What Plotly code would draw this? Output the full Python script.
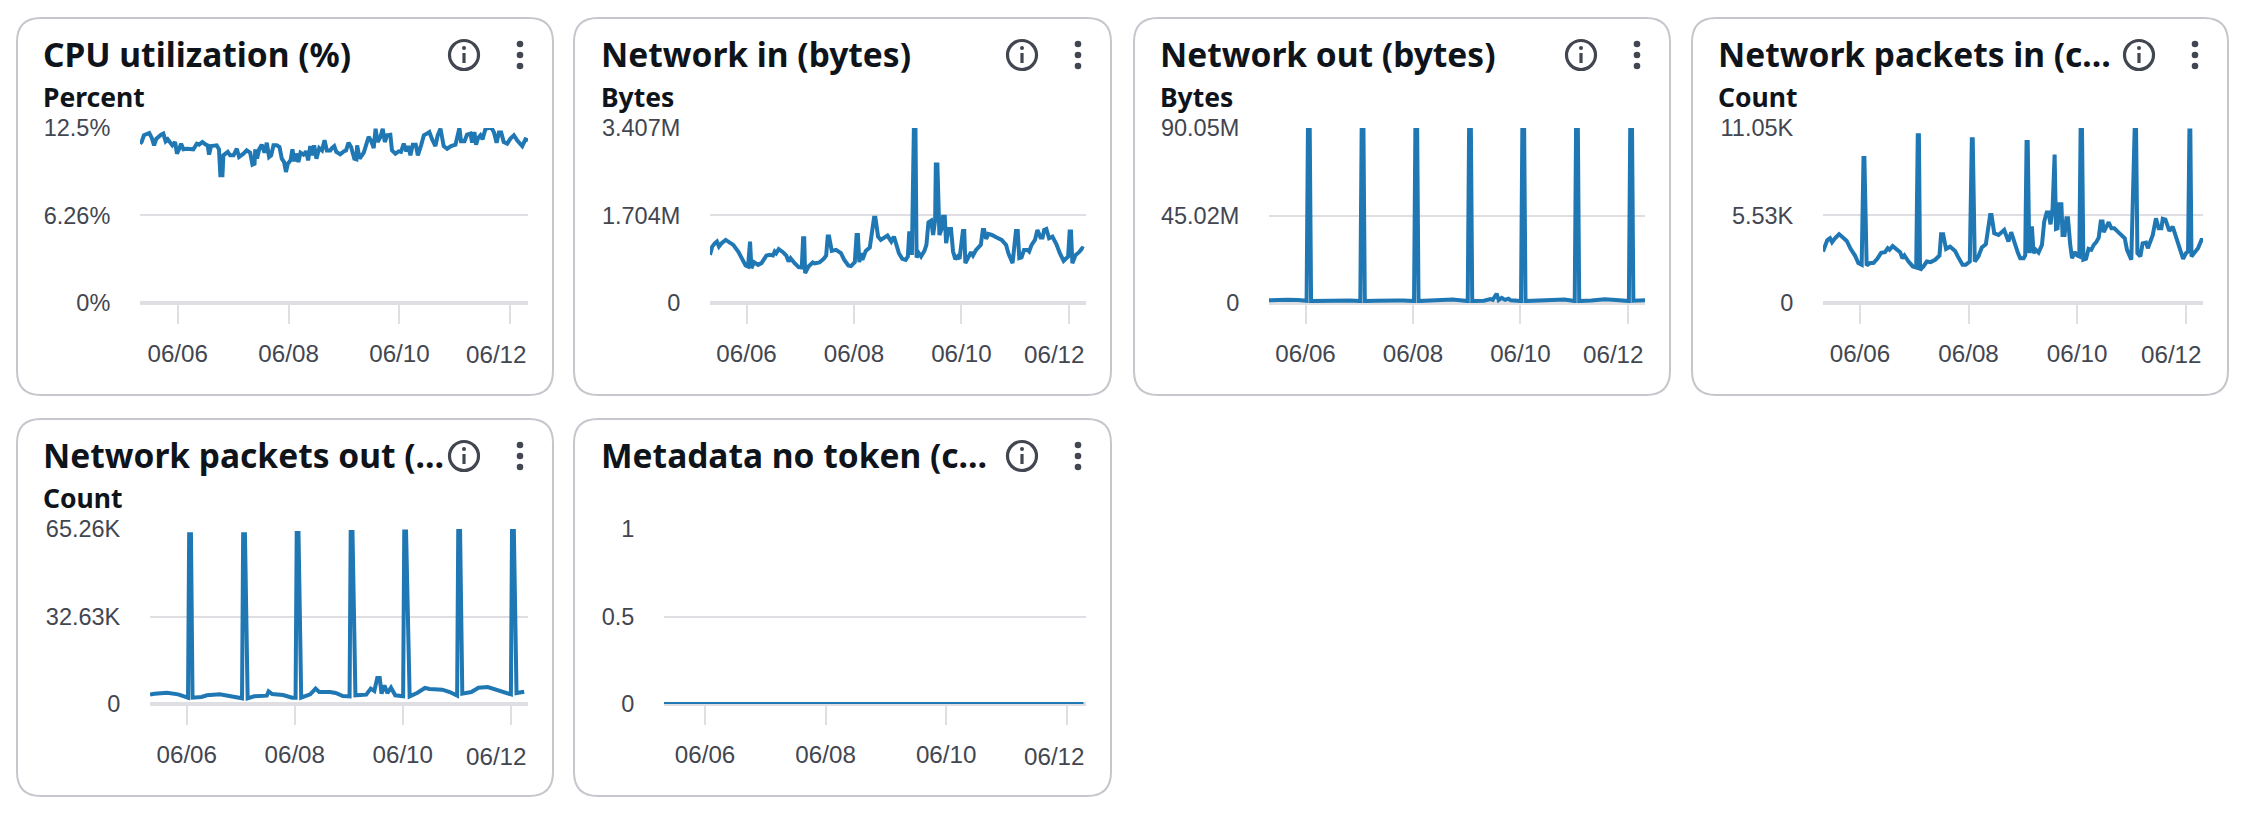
#!/usr/bin/env python3
"""
EC2 monitoring dashboard: six small metric cards drawn with Plotly.
Output: out.html
"""
import pandas as pd
import plotly.graph_objects as go

WIDTH = 2264
HEIGHT = 820

START = "2024-06-05 07:40"
END = "2024-06-12 07:40"
TICK_DATES = ["2024-06-06", "2024-06-08", "2024-06-10", "2024-06-12"]
TICK_TEXT = ["06/06", "06/08", "06/10", "06/12"]

TITLES = [
    "CPU utilization (%)",
    "Network in (bytes)",
    "Network out (bytes)",
    "Network packets in (c…",
    "Network packets out (…",
    "Metadata no token (c…",
]
UNITS = ["Percent", "Bytes", "Bytes", "Count", "Count", ""]

Y_TICKS = [
    [0, 6.26, 12.5],
    [0, 1.704, 3.407],
    [0, 45.02, 90.05],
    [0, 5.53, 11.05],
    [0, 32.63, 65.26],
    [0, 0.5, 1],
]
Y_TICK_TEXT = [
    ["0%", "6.26%", "12.5%"],
    ["0", "1.704M", "3.407M"],
    ["0", "45.02M", "90.05M"],
    ["0", "5.53K", "11.05K"],
    ["0", "32.63K", "65.26K"],
    ["0", "0.5", "1"],
]

# hours since START
CPU_HOURS = [
    0, .7, 1.7, 2.9, 4, 5.1, 6.1, 7.1, 8.2, 9.1,
    10.1, 11.1, 12, 13, 14, 15.2, 16, 16.9, 17.8, 18.8,
    20.2, 23.1, 24.6, 25.6, 27, 28.5, 29.3, 29.9, 30.8, 33.2,
    34.2, 34.8, 35.7, 36.1, 38, 39, 40.5, 41.9, 42.9, 44.8,
    46.2, 47.7, 48.7, 49.6, 49.9, 50.7, 51.6, 52.7, 53.9, 54.9,
    55.9, 56.8, 57.8, 59.2, 60.4, 61.4, 62.4, 63.2, 64, 65.2,
    66, 66.9, 67.6, 68.6, 69.5, 70.8, 72, 72.8, 73.7, 74.4,
    75.4, 76.4, 77.6, 78.8, 79.9, 80.9,
    82.4, 83.1, 84.1, 85, 86.7, 88.2, 89.2, 90.3, 91.4, 92.8,
    93.7, 94, 95.1, 96.9, 97.9, 99, 100, 101.2, 102, 102.9,
    104.1, 105.1, 106, 107, 108.4, 109.1, 110.6, 112, 113, 114.2,
    115.3, 116.1, 117.1, 118.1, 119.4, 120.3, 121.7, 122.9, 124.3, 125.3,
    126.5, 127.9, 128.9, 130.1, 131.5, 133, 134.7, 136.6, 138.3, 139,
    140.5, 141.6, 143.1, 143.8, 144.8, 145.5, 146.4, 147.4, 148.3, 149.6,
    151, 152.2, 153.2, 154.4, 155.4, 156.4, 157.5, 159, 160.4, 161.9,
    163.3, 165.5, 166.9, 168,
]
CPU_VALUES = [
    11.38, 11.50, 11.98, 12.05, 12.14, 11.79, 11.26, 11.74, 11.93, 12.02,
    12.10, 11.55, 11.69, 11.45, 11.26, 11.50, 10.67, 10.98, 11.38, 10.98,
    11.02, 10.98, 11.38, 11.31, 11.50, 11.31, 11.26, 10.60, 11.21, 11.26,
    10.98, 9.12, 9.12, 10.55, 10.79, 10.55, 10.55, 11.02, 10.43, 10.67,
    10.90, 10.74, 9.88, 9.95, 10.98, 10.31, 10.98, 11.31, 10.74, 11.45,
    10.43, 10.55, 11.26, 11.26, 11.14, 10.31, 10.07, 9.36, 9.95, 10.19,
    10.98, 10.12, 10.67, 10.07, 10.74, 10.60, 10.83, 10.19, 11.21, 10.55,
    11.26, 10.31, 11.07, 10.90, 11.62, 10.90,
    10.90, 11.07, 11.21, 10.79, 10.62, 10.83, 10.90, 11.45, 11.14, 10.31,
    10.26, 11.26, 10.31, 10.74, 11.26, 11.86, 11.62, 11.07, 12.45, 11.50,
    11.86, 12.45, 11.50, 11.98, 12.02, 10.90, 10.67, 10.83, 10.79, 11.38,
    10.83, 11.21, 10.55, 11.31, 11.31, 10.55, 11.26, 11.98, 12.10, 12.21,
    11.69, 11.21, 11.98, 12.45, 11.21, 11.02, 11.21, 11.31, 12.50, 11.55,
    11.55, 12.02, 12.10, 11.45, 12.21, 11.31, 11.79, 11.98, 11.69, 12.45,
    12.50, 12.50, 12.21, 11.45, 12.17, 12.17, 11.50, 11.38, 11.74, 11.98,
    11.62, 11.21, 11.69, 11.62,
]

NET_IN_HOURS = [
    0, 1, 2.2, 3.1, 4, 5.2, 7, 8.4, 10.4, 12.6,
    14.8, 15.9, 17, 17.6, 17.9, 18.5, 19.7, 21.5, 23, 25.2,
    26.7, 28.1, 28.9, 29.6, 30.7, 32.6, 34.1, 35.1, 36, 37.8,
    39.6, 41, 41.6, 42.1, 42.5, 44, 45.9, 46.7, 48.9, 50.8,
    51.9, 52.6, 53.2, 54.4, 56.3, 58.5, 60, 61.8, 63, 64.7,
    65.5, 66.1, 66.7, 67.4, 68.1, 69.6, 71.4, 73.3, 73.9, 75.1,
    76.3, 79.3, 81,
    82.2, 83.4, 84.4, 85.9, 87.4, 88.4, 89, 89.6, 90.2, 91.1,
    91.8, 92.3, 93.3, 94.3, 95.8, 96.7, 97.6, 98.8, 99.7, 100.6,
    100.9, 101.6, 102.5, 103.7, 104.1, 104.9, 105.5, 106.6, 107.7, 108.6,
    109.6, 110.6, 111.5, 113, 113.6, 114.1, 115.5, 116.6, 117.5, 118.9,
    121, 121.9, 122.5, 123.4, 124.4, 125.9, 128.1, 130.3, 132.3, 133.3,
    135.2, 136.7, 137.5, 138.2, 139.2, 140.3, 141.8, 142.6, 143.7, 145.2,
    146.3, 147.7, 148.6, 149.3, 150.3, 151.5, 153, 154.8, 156.3, 158,
    160, 160.7, 161.3, 161.9, 163.4, 164.9, 166.3, 167,
]
NET_IN_VALUES = [
    .937, 1.099, 1.164, 1.196, 1.099, 1.164, 1.228, 1.183, 1.131, 1.002,
    .840, .731, .711, 1.196, 1.196, .679, .795, .743, .776, .924,
    .937, .924, 1.002, .970, 1.047, .989, .924, .808, .873, .776,
    .698, .692, 1.261, 1.261, .582, .711, .789, .769, .789, .860,
    .924, 1.293, 1.293, 1.015, 1.034, .970, .840, .731, .718, .795,
    1.325, 1.325, .795, .970, .840, 1.015, 1.080, 1.662, 1.662, 1.293,
    1.228, 1.312, 1.196,
    1.293, 1.099, .970, .860, .840, .905, 1.358, 1.358, .937, 3.407,
    3.407, .886, .970, .905, 1.015, 1.131, 1.571, 1.603, 1.325, 1.616,
    2.696, 2.696, 1.325, 1.468, 1.681, 1.681, 1.164, 1.442, 1.442, 1.002,
    .853, .905, .860, 1.403, 1.403, .776, .905, .989, .924, 1.034,
    1.131, 1.422, 1.422, 1.248, 1.345, 1.325, 1.274, 1.228, 1.131, .970,
    .776, 1.403, 1.403, .873, .886, 1.034, 1.034, 1.002, 1.131, 1.228,
    1.422, 1.274, 1.274, 1.422, 1.442, 1.261, 1.293, 1.144, .970, .821,
    .905, 1.390, 1.390, .776, .937, .989, 1.067, 1.054,
]

NET_OUT_HOURS = [
    0, 3, 8, 13, 16.8, 17.4, 18.2, 18.8, 24, 30,
    36, 40.8, 41.4, 42.2, 42.8, 48, 54, 57, 60, 64.8,
    65.4, 66.2, 66.8, 72, 76, 82, 88.8, 89.4, 90.2, 90.8,
    96, 99, 100, 101.7, 102.6, 104, 105.5, 107, 108, 112.6,
    113.2, 114, 114.6, 120, 126, 132, 136.6, 137.2, 138, 138.6,
    144, 150, 155, 160.8, 161.4, 162.2, 162.8, 165, 168,
]
NET_OUT_VALUES = [
    1.4, 1.7, 1.7, 1.5, 1.1, 89.2, 89.2, 1.0, 1.2, 1.5,
    1.3, 1.0, 89.4, 89.4, 1.0, 1.2, 1.6, 1.3, 1.3, 1.0,
    89.5, 89.5, 1.0, 1.3, 1.9, 1.8, 1.0, 89.9, 89.9, 1.0,
    1.2, 2.0, 1.6, 4.8, 1.5, 2.6, 1.6, 2.2, 1.4, 1.0,
    90.05, 90.05, 1.0, 1.3, 1.9, 1.8, 1.0, 90.05, 90.05, 1.0,
    1.3, 1.9, 1.6, 1.0, 90.05, 90.05, 1.2, 1.5, 1.4,
]

PACKETS_IN_HOURS = [
    0, .9, 1.9, 3.1, 4, 5.3, 7.1, 8.7, 10.5, 12.2,
    14.2, 15.6, 17.1, 17.9, 18.3, 19.3, 20.8, 22.3, 24, 25.7,
    27.4, 28.6, 29.4, 30.8, 32.3, 34.1, 35.1, 36, 37.8, 39.7,
    41.2, 41.9, 42.4, 42.9, 44.4, 45.9, 47.6, 49.6, 51.5, 52.2,
    53.1, 54.4, 56.2, 58.4, 59.6, 61.7, 63.1, 64.9, 65.8, 66.2,
    67.1, 68.7, 70.2, 72, 73.9, 74.5, 75.7, 77.6, 80.1, 82,
    83.2,
    85, 86.2, 87.2, 88.7, 89.4, 90, 90.5, 91.2, 91.9, 92.4,
    93.1, 94.1, 95.3, 96.8, 97.8, 98.9, 99.7, 100.6, 101.5, 102,
    102.4, 103, 103.7, 104.5, 105.4, 105.9, 106.8, 107.6, 108.3, 109.3,
    110.1, 111.3, 112.3, 113.3, 113.9, 114.5, 115.1, 116.3, 117.4, 118.6,
    119.7, 120.8, 121.9, 122.8, 123.6, 124.1, 125.1, 126.3, 127.5, 128.8,
    130.3, 132.2, 133.4, 134.4, 136.3, 137.8, 138.4, 139, 140.3, 141.3,
    142.8, 143.6, 144.7, 145.8, 147.2, 148.4, 149.6, 150.2, 151.4, 153.1,
    154.6, 156.5, 158, 159.2, 160.5, 161.4, 162, 162.4, 162.9, 164.6,
    165.8, 167.3, 168,
]
PACKETS_IN_VALUES = [
    3.25, 3.67, 3.98, 4.09, 3.84, 4.09, 4.34, 4.15, 3.92, 3.42,
    2.98, 2.52, 2.41, 9.16, 9.16, 2.37, 2.52, 2.52, 2.79, 3.17,
    3.21, 3.46, 3.36, 3.59, 3.42, 3.21, 2.83, 3.00, 2.62, 2.31,
    2.24, 10.59, 10.59, 2.08, 2.31, 2.62, 2.58, 2.73, 3.00, 4.34,
    4.34, 3.42, 3.56, 3.29, 2.94, 2.41, 2.41, 2.62, 10.34, 10.34,
    2.62, 2.94, 3.50, 3.71, 5.56, 5.56, 4.40, 4.30, 4.61, 3.88,
    4.47,
    3.56, 3.15, 2.83, 2.83, 3.00, 10.17, 10.17, 3.15, 4.72, 4.72,
    3.15, 3.36, 3.19, 3.67, 5.14, 5.72, 5.72, 4.97, 5.98, 9.37,
    9.37, 4.68, 4.72, 6.23, 6.23, 4.30, 4.30, 5.35, 5.35, 3.67,
    2.83, 3.21, 3.00, 2.94, 11.01, 11.01, 2.73, 2.79, 3.42, 3.36,
    3.67, 3.84, 4.13, 5.14, 5.14, 4.47, 4.82, 5.10, 4.72, 4.72,
    4.51, 4.30, 4.09, 3.36, 2.73, 11.05, 11.05, 3.15, 2.94, 3.77,
    3.82, 3.46, 3.98, 4.30, 5.35, 4.72, 4.72, 5.31, 5.26, 4.55,
    4.82, 3.98, 3.36, 2.79, 3.15, 3.25, 10.90, 10.90, 2.94, 3.21,
    3.46, 3.98, 3.98,
]

PACKETS_OUT_HOURS = [
    0, 2, 7.6, 12.5, 16.9, 17.4, 18.2, 18.9, 22.9, 25.3,
    31, 36.6, 40.9, 41.4, 42.2, 43.4, 46.3, 51.9, 52.7, 54.3,
    59.1, 63.2, 64.7, 65.2, 66, 67.2, 71.2, 73.6, 75.2, 80,
    82.5, 85.7, 88.7, 89.2, 90, 91.3, 96.1, 98.1, 99.7, 101,
    102.1, 102.9, 104.2, 105.5, 107.1, 109, 112.5, 113, 113.8, 115.4,
    118.7, 122.2, 124.3, 129.9, 133.2, 136.5, 137, 137.8, 138.8, 142.8,
    146, 150.1, 154.1, 160.4, 160.9, 161.7, 162.9, 165.3, 166.3,
]
PACKETS_OUT_VALUES = [
    3.48, 3.85, 4.23, 3.60, 2.36, 63.3, 63.3, 2.36, 2.61, 3.23,
    3.60, 2.86, 2.11, 63.3, 63.3, 2.11, 2.86, 3.11, 4.72, 3.73,
    3.36, 2.36, 2.36, 63.8, 63.8, 2.36, 3.60, 5.72, 4.47, 4.47,
    4.10, 2.98, 2.86, 64.1, 64.1, 3.23, 3.48, 5.72, 4.85, 9.70,
    9.70, 3.85, 6.96, 4.10, 6.09, 3.23, 2.86, 64.3, 64.3, 2.86,
    4.10, 5.97, 5.59, 5.34, 4.47, 3.11, 65.1, 65.1, 3.85, 4.47,
    6.09, 6.34, 5.34, 3.60, 65.26, 65.26, 4.10, 4.60, 4.60,
]

METADATA_HOURS = [0, 24, 48, 72, 96, 120, 144, 167]
METADATA_VALUES = [0, 0, 0, 0, 0, 0, 0, 0]

SERIES_HOURS = [CPU_HOURS, NET_IN_HOURS, NET_OUT_HOURS, PACKETS_IN_HOURS, PACKETS_OUT_HOURS, METADATA_HOURS]
SERIES_VALUES = [CPU_VALUES, NET_IN_VALUES, NET_OUT_VALUES, PACKETS_IN_VALUES, PACKETS_OUT_VALUES, METADATA_VALUES]

# card box, plot left/right, title left, info icon x, kebab x (all page pixels)
CARDS = [
    dict(left=17, right=553, top=18, plot_l=140, plot_r=528, text_x=41, info_x=464, dots_x=520),
    dict(left=574, right=1111, top=18, plot_l=710, plot_r=1086, text_x=599, info_x=1022, dots_x=1078),
    dict(left=1134, right=1670, top=18, plot_l=1269, plot_r=1645, text_x=1158, info_x=1581, dots_x=1637),
    dict(left=1692, right=2228, top=18, plot_l=1823, plot_r=2203, text_x=1716, info_x=2139, dots_x=2195),
    dict(left=17, right=553, top=419, plot_l=150, plot_r=528, text_x=41, info_x=464, dots_x=520),
    dict(left=574, right=1111, top=419, plot_l=664, plot_r=1086, text_x=599, info_x=1022, dots_x=1078),
]

CARD_H = 377
BLUE = "#1f77b4"
GRID = "#dedee3"
BORDER = "#c6c6cd"
TEXT = "#0f141a"
MUTED = "#424650"
TITLE_FONT = "Noto Sans"
TICK_FONT = "Liberation Sans"


def px(x):
    return x / WIDTH


def py(y):
    return 1 - y / HEIGHT


def rounded_box(x0, y0, x1, y1, r):
    """Rounded rectangle path in paper coordinates."""
    pts = [
        ("M", x0 + r, y0), ("L", x1 - r, y0), ("Q", x1, y0, x1, y0 + r), ("L", x1, y1 - r),
        ("Q", x1, y1, x1 - r, y1), ("L", x0 + r, y1), ("Q", x0, y1, x0, y1 - r), ("L", x0, y0 + r),
        ("Q", x0, y0, x0 + r, y0),
    ]
    out = []
    for p in pts:
        coords = []
        for i in range(1, len(p), 2):
            coords.append(f"{px(p[i]):.5f},{py(p[i + 1]):.5f}")
        out.append(p[0] + " " + " ".join(coords))
    return " ".join(out) + " Z"


def text_note(x, y, text, size, family, color, anchor="left", bold=False):
    return dict(
        x=px(x), y=py(y), xref="paper", yref="paper", text=f"<b>{text}</b>" if bold else text,
        showarrow=False, xanchor=anchor, yanchor="middle", align=anchor,
        font=dict(family=family, size=size, color=color),
    )


def circle(cx, cy, r, **kw):
    return dict(type="circle", xref="paper", yref="paper", x0=px(cx - r), x1=px(cx + r), y0=py(cy + r), y1=py(cy - r), **kw)


def main():
    fig = go.Figure()
    shapes = []
    notes = []

    for i, card in enumerate(CARDS):
        n = i + 1
        top = card["top"]
        suffix = "" if n == 1 else str(n)
        times = pd.Timestamp(START) + pd.to_timedelta(SERIES_HOURS[i], unit="h")

        fig.add_trace(go.Scatter(
            x=times, y=SERIES_VALUES[i], mode="lines", name=TITLES[i],
            line=dict(color=BLUE, width=4), xaxis=f"x{suffix}", yaxis=f"y{suffix}",
        ))

        fig.layout[f"xaxis{suffix}"] = dict(
            domain=[px(card["plot_l"]), px(card["plot_r"])], anchor=f"y{suffix}",
            type="date", range=[START, END], tickvals=TICK_DATES,
            # the last label is right-aligned to the plot edge, see below
            ticktext=TICK_TEXT[:-1] + [""],
            ticks="outside", ticklen=20, tickwidth=2, tickcolor=GRID,
            ticklabelstandoff=9, showgrid=False, showline=False, zeroline=False,
            tickfont=dict(family=TICK_FONT, size=24.2, color=MUTED),
        )
        fig.layout[f"yaxis{suffix}"] = dict(
            domain=[py(top + 285), py(top + 110)], anchor=f"x{suffix}",
            range=[0, Y_TICKS[i][-1]], tickvals=Y_TICKS[i], ticktext=Y_TICK_TEXT[i],
            ticks="outside", ticklen=24, tickwidth=1, tickcolor="rgba(0,0,0,0)",
            showgrid=True, gridcolor=GRID, gridwidth=2,
            zeroline=True, zerolinecolor=GRID, zerolinewidth=4, showline=False,
            tickfont=dict(family=TICK_FONT, size=23.5, color=MUTED),
        )

        # card outline
        shapes.append(dict(
            type="path", xref="paper", yref="paper", layer="below",
            path=rounded_box(card["left"], top, card["right"], top + CARD_H, 24),
            line=dict(color=BORDER, width=2), fillcolor="white",
        ))

        # info icon and kebab menu
        info_y = top + 37
        shapes.append(circle(card["info_x"], info_y, 14.5, line=dict(color=MUTED, width=3.2)))
        shapes.append(circle(card["info_x"], info_y - 7, 2, line=dict(width=0), fillcolor=MUTED))
        shapes.append(dict(
            type="line", xref="paper", yref="paper",
            x0=px(card["info_x"]), x1=px(card["info_x"]), y0=py(info_y - 2), y1=py(info_y + 8),
            line=dict(color=MUTED, width=3.2),
        ))
        for dy in (-11, 0, 11):
            shapes.append(circle(card["dots_x"], info_y + dy, 3.3, line=dict(width=0), fillcolor=MUTED))

        notes.append(text_note(card["text_x"], top + 36, TITLES[i], 33.5, TITLE_FONT, TEXT, bold=True))
        if UNITS[i]:
            notes.append(text_note(card["text_x"], top + 79, UNITS[i], 26.5, TITLE_FONT, TEXT, bold=True))
        notes.append(text_note(card["plot_r"] + 1, top + 337, TICK_TEXT[-1], 24.2, TICK_FONT, MUTED, anchor="right"))

    fig.update_layout(
        width=WIDTH, height=HEIGHT, margin=dict(l=0, r=0, t=0, b=0, autoexpand=False),
        paper_bgcolor="white", plot_bgcolor="rgba(0,0,0,0)",
        showlegend=False, shapes=shapes, annotations=notes,
    )

    fig.write_html(
        "out.html", config=dict(displayModeBar=False),
        post_script="document.body.style.margin='0';",
    )


if __name__ == "__main__":
    main()
